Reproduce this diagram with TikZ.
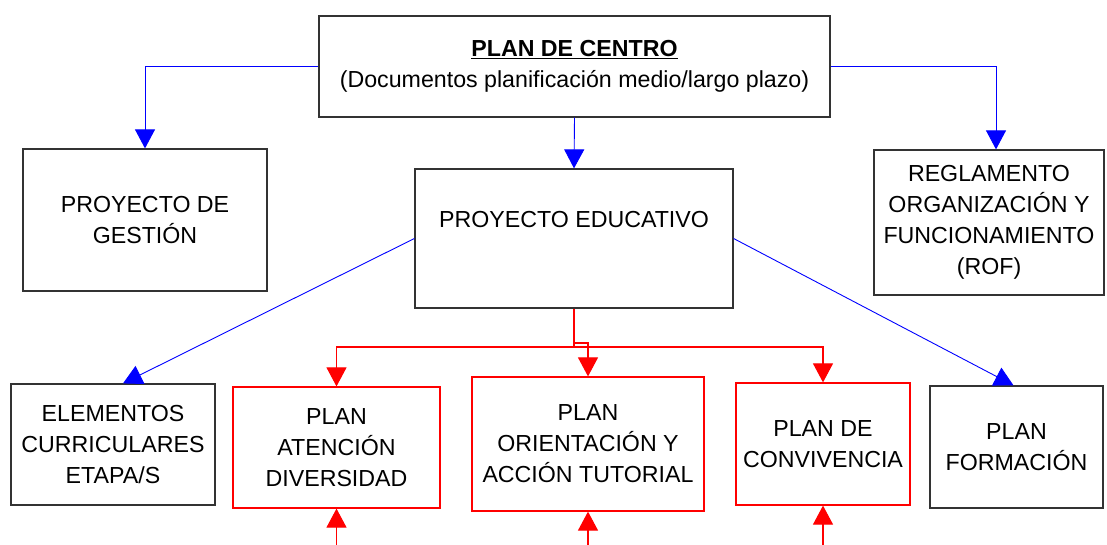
\documentclass[tikz,border=0pt]{standalone}
\usepackage{fontspec}
\setmainfont{Liberation Sans}
\usetikzlibrary{arrows.meta, positioning}

\begin{document}
\begin{tikzpicture}[x=1pt, y=-1pt, >={Triangle[width=20pt, length=19pt]}]
			\tikzstyle{box} = [draw=black!80, line width=1.2pt, rectangle, inner sep=0pt, align=center, font=\fontsize{23.2}{31}\selectfont]
			\tikzstyle{redbox} = [box, draw=red]
			\tikzstyle{blueline} = [->, blue, line width=0.9pt]
			\tikzstyle{redline} = [->, red, line width=1.1pt]

			\useasboundingbox (0, 0) rectangle (1107, 545);

			\node[box, minimum width=511, minimum height=101]	at (574.5, 66.5)	(centro)	{\textbf{\underline{PLAN DE CENTRO}}\\(Documentos planificación medio/largo plazo)};
			\node[box, minimum width=244, minimum height=142]	at (145, 220)		(gestion)	{PROYECTO DE\\GESTIÓN};
			\node[box, minimum width=318, minimum height=139,
				label={[font=\fontsize{23.2}{31}\selectfont, yshift=18.5pt]center:PROYECTO EDUCATIVO}]
																at (574, 238.5)		(educ)		{};
			\node[box, minimum width=230, minimum height=145]	at (989, 222.5)		(rof)		{REGLAMENTO\\ORGANIZACIÓN Y\\FUNCIONAMIENTO\\(ROF)};

			\node[box, minimum width=204, minimum height=121]	at (113, 444.5)		(elem)		{ELEMENTOS\\CURRICULARES\\ETAPA/S};
			\node[redbox, minimum width=207, minimum height=121]	at (336.5, 447.5)	(aten)		{PLAN\\ATENCIÓN\\DIVERSIDAD};
			\node[redbox, minimum width=232, minimum height=134]	at (588, 444)		(orient)	{PLAN\\ORIENTACIÓN Y\\ACCIÓN TUTORIAL};
			\node[redbox, minimum width=174, minimum height=122]	at (823, 444)		(conv)		{PLAN DE\\CONVIVENCIA};
			\node[box, minimum width=173, minimum height=122]	at (1016.5, 447)	(form)		{PLAN\\FORMACIÓN};

			\coordinate (split)	at (574, 347);
			\coordinate (jog)	at (574, 343);
			\coordinate (inA)	at (336.5, 545);
			\coordinate (inO)	at (588, 545);
			\coordinate (inC)	at (823, 545);

			% blue: plan de centro
			\draw[blueline] (centro.west) -| (gestion.north);
			\draw[blueline] (centro.east) -| ([xshift=7pt]rof.north);
			\draw[blueline] (centro.south) -- (educ.north);
			\draw[blueline] (educ.west) -- ([xshift=10pt]elem.north);
			\draw[blueline] (educ.east) -- ([xshift=-3pt]form.north);

			% red: proyecto educativo to its plans
			\draw[redline] (educ.south) -- (split) -| (aten.north);
			\draw[redline] (split) -| (conv.north);
			\draw[redline] (jog) -| (orient.north);
			\draw[redline] (inA) -- (aten.south);
			\draw[redline] (inO) -- (orient.south);
			\draw[redline] (inC) -- (conv.south);
			\end{tikzpicture}
\end{document}
